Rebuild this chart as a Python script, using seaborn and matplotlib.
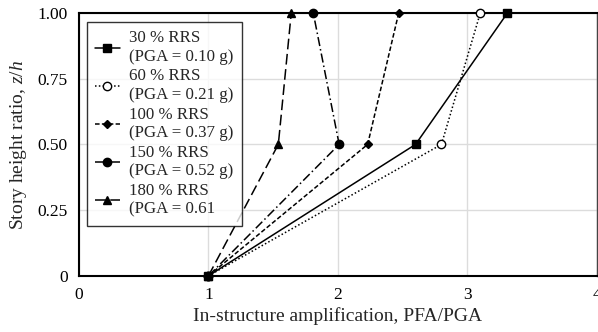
import matplotlib
matplotlib.use("Agg")
import matplotlib.pyplot as plt
import seaborn as sns
import pandas as pd

sns.set_theme(style="white")
plt.rcParams["font.family"] = ["Liberation Serif", "DejaVu Serif"]
plt.rcParams["mathtext.fontset"] = "custom"
plt.rcParams["mathtext.it"] = "Liberation Serif:italic"
plt.rcParams["mathtext.rm"] = "Liberation Serif"

heights = [0.0, 0.5, 1.0]
labels = ["30 % RRS\n(PGA = 0.10 g)", "60 % RRS\n(PGA = 0.21 g)",
          "100 % RRS\n(PGA = 0.37 g)", "150 % RRS\n(PGA = 0.52 g)",
          "180 % RRS\n(PGA = 0.61"]
amp_30 = [1.0, 2.60, 3.31]
amp_60 = [1.0, 2.80, 3.10]
amp_100 = [1.0, 2.23, 2.47]
amp_150 = [1.0, 2.01, 1.81]
amp_180 = [1.0, 1.54, 1.64]
x_ticks = [0, 1, 2, 3, 4]
y_ticks = [0, 0.25, 0.5, 0.75, 1.0]
y_ticklabels = ["0", "0.25", "0.50", "0.75", "1.00"]

series = [amp_30, amp_60, amp_100, amp_150, amp_180]
rows = []
for lab, vals in zip(labels, series):
    for v, h in zip(vals, heights):
        rows.append({"case": lab, "amp": v, "z": h})
df = pd.DataFrame(rows)

styles = {
    labels[0]: dict(ls="-", marker="s", mfc="black", ms=6),
    labels[1]: dict(ls=(0, (1, 1.5)), marker="o", mfc="white", ms=6),
    labels[2]: dict(ls=(0, (3, 1.5)), marker="D", mfc="black", ms=4.5),
    labels[3]: dict(ls=(0, (6, 2, 1, 2)), marker="o", mfc="black", ms=6),
    labels[4]: dict(ls=(0, (7, 3)), marker="^", mfc="black", ms=6),
}

fig = plt.figure(figsize=(5.98, 3.32), dpi=100)
ax = fig.add_axes([0.132, 0.169, 0.866, 0.792])

for lab in labels:
    st = styles[lab]
    sub = df[df["case"] == lab]
    sns.lineplot(data=sub, x="amp", y="z", ax=ax, sort=False, estimator=None,
                 color="black", lw=1.1, linestyle=st["ls"], marker=st["marker"],
                 markersize=st["ms"], markerfacecolor=st["mfc"],
                 markeredgecolor="black", markeredgewidth=1.0, label=lab,
                 clip_on=False, zorder=3)

ax.set_xlim(0, 4)
ax.set_ylim(0, 1)
ax.set_xticks(x_ticks)
ax.set_xticklabels([str(t) for t in x_ticks])
ax.set_yticks(y_ticks)
ax.set_yticklabels(y_ticklabels)
ax.grid(True, color="#dcdcdc", lw=1.0)
ax.tick_params(axis="both", labelsize=12.5, length=0, pad=8, colors="black")

for side in ["left", "bottom", "top"]:
    ax.spines[side].set_color("black")
    ax.spines[side].set_linewidth(1.5)
ax.spines["right"].set_color("#444444")
ax.spines["right"].set_linewidth(1.0)

ax.set_xlabel("In-structure amplification, PFA/PGA", fontsize=14, labelpad=3)
ax.set_ylabel("Story height ratio, $z/h$", fontsize=14, labelpad=6)

leg = ax.legend(loc="upper left", bbox_to_anchor=(0.015, 0.966), fontsize=12.2,
                frameon=True, fancybox=False, edgecolor="black",
                handlelength=1.45, labelspacing=0.22, borderpad=0.5,
                handletextpad=0.55, borderaxespad=0.0)
leg.get_frame().set_linewidth(1.0)

fig.savefig("out.png", dpi=100)
